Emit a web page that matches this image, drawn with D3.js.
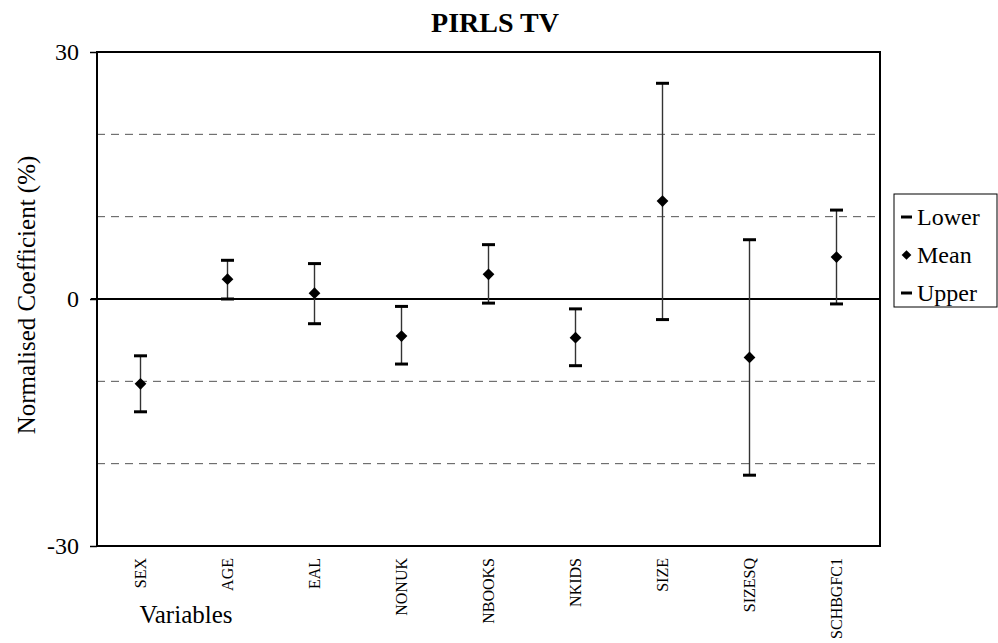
<!DOCTYPE html>
<html><head><meta charset="utf-8">
<script src="https://cdn.jsdelivr.net/npm/d3@7"></script>
<style>body{margin:0;background:#fff}svg{display:block}</style>
</head><body><svg id="c" width="998" height="643"></svg>
<script>
const categories = ["SEX","AGE","EAL","NONUK","NBOOKS","NKIDS","SIZE","SIZESQ","SCHBGFC1"];
const meanValues = [-10.3, 2.4, 0.7, -4.5, 3.0, -4.7, 11.9, -7.1, 5.1];
const upperValues = [-6.9, 4.7, 4.3, -0.9, 6.6, -1.2, 26.2, 7.2, 10.8];
const lowerValues = [-13.7, 0.0, -3.0, -7.9, -0.5, -8.1, -2.5, -21.4, -0.6];
const yTicks = [-30, 0, 30];
const gridValues = [-20, -10, 10, 20];
const legendLabels = ["Lower", "Mean", "Upper"];

const FONT = "Liberation Serif, DejaVu Serif, serif";
const svg = d3.select("#c").attr("font-family", FONT);
const L = 97, R = 880, T = 52, B = 546;
const x = d3.scaleBand().domain(categories).range([L, R]);
const y = d3.scaleLinear().domain([-30, 30]).range([B, T]);

// grid
svg.selectAll(".grid").data(gridValues).enter().append("line")
  .attr("x1", L).attr("x2", R).attr("y1", d => y(d)).attr("y2", d => y(d))
  .attr("stroke", "#555").attr("stroke-width", 1).attr("stroke-dasharray", "8,6");

// zero line
svg.append("line").attr("x1", L - 6).attr("x2", R).attr("y1", y(0)).attr("y2", y(0))
  .attr("stroke", "#000").attr("stroke-width", 2);

// y axis
const yAxis = d3.axisLeft(y).tickValues(yTicks).tickSize(7).tickPadding(11).tickFormat(d => String(d));
const ga = svg.append("g").attr("transform", `translate(${L},0)`).call(yAxis).attr("font-family", FONT);
ga.select(".domain").remove();
ga.selectAll(".tick line").attr("stroke", "#000").attr("stroke-width", 1.5);
ga.selectAll(".tick text").attr("font-size", 24).attr("fill", "#000");

// x axis labels
const xAxis = d3.axisBottom(x).tickSize(0).tickPadding(0);
const gx = svg.append("g").attr("transform", `translate(0,${B})`).call(xAxis).attr("font-family", FONT);
gx.select(".domain").remove();
gx.selectAll(".tick text")
  .attr("transform", "rotate(-90)")
  .attr("x", -12).attr("y", 0).attr("dy", "0.35em")
  .attr("text-anchor", "end")
  .attr("font-size", 16).attr("fill", "#000");

// frame
svg.append("rect").attr("x", L).attr("y", T).attr("width", R - L).attr("height", B - T)
  .attr("fill", "none").attr("stroke", "#000").attr("stroke-width", 2);

// error bars
const cx = d => x(d) + x.bandwidth() / 2;
const g = svg.append("g");
categories.forEach((c, i) => {
  g.append("line").attr("x1", cx(c)).attr("x2", cx(c))
    .attr("y1", y(upperValues[i])).attr("y2", y(lowerValues[i]))
    .attr("stroke", "#333").attr("stroke-width", 1.4);
  [upperValues[i], lowerValues[i]].forEach(v => {
    g.append("line").attr("x1", cx(c) - 6.5).attr("x2", cx(c) + 6.5)
      .attr("y1", y(v)).attr("y2", y(v)).attr("stroke", "#000").attr("stroke-width", 3);
  });
  g.append("path").attr("d", d3.symbol(d3.symbolDiamond2, 88)())
    .attr("transform", `translate(${cx(c)},${y(meanValues[i])})`)
    .attr("fill", "#000");
});

// titles
svg.append("text").attr("x", 495).attr("y", 32).attr("text-anchor", "middle")
  .attr("font-size", 28).attr("font-weight", "bold").text("PIRLS TV");
svg.append("text").attr("transform", `translate(35,295) rotate(-90)`)
  .attr("text-anchor", "middle").attr("font-size", 25).text("Normalised Coefficient (%)");
svg.append("text").attr("x", 186).attr("y", 623).attr("text-anchor", "middle")
  .attr("font-size", 25).text("Variables");

// legend
const lg = svg.append("g");
lg.append("rect").attr("x", 894).attr("y", 194).attr("width", 103).attr("height", 113)
  .attr("fill", "#fff").attr("stroke", "#000").attr("stroke-width", 1);
legendLabels.forEach((lab, i) => {
  const yy = 217 + i * 38;
  if (lab === "Mean") {
    lg.append("path").attr("d", d3.symbol(d3.symbolDiamond2, 60)())
      .attr("transform", `translate(906.5,${yy})`).attr("fill", "#000");
  } else {
    lg.append("line").attr("x1", 901).attr("x2", 912).attr("y1", yy).attr("y2", yy)
      .attr("stroke", "#000").attr("stroke-width", 3);
  }
  lg.append("text").attr("x", 917).attr("y", yy).attr("dy", "0.35em")
    .attr("font-size", 24).text(lab);
});
</script></body></html>
